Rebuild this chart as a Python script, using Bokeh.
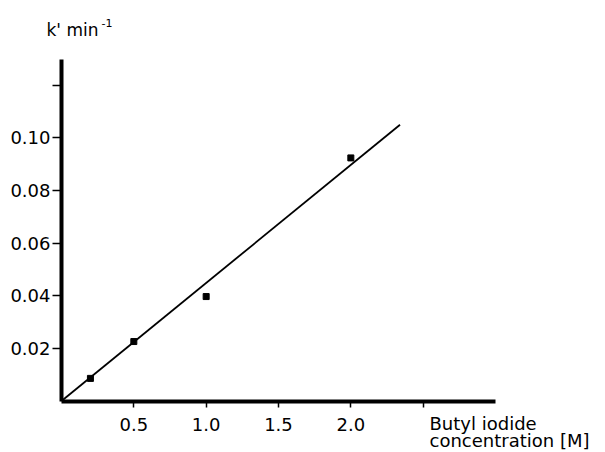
from bokeh.plotting import figure
from bokeh.models import Range1d, FixedTicker, Label
from bokeh.embed import file_html
from bokeh.resources import INLINE

# data
conc = [0.2, 0.5, 1.0, 2.0]
k_obs = [0.0086, 0.0226, 0.0397, 0.0924]
fit_x = [0.0, 2.34]
fit_y = [0.0, 0.105]

x_ticks = [0.5, 1.0, 1.5, 2.0, 2.5]
x_tick_labels = ["0.5", "1.0", "1.5", "2.0", ""]
y_ticks = [0.02, 0.04, 0.06, 0.08, 0.10, 0.12]
y_tick_labels = ["0.02", "0.04", "0.06", "0.08", "0.10", ""]

FONT = "DejaVu Sans"
W, H = 605, 452

# pixel layout of the axes (origin at 61,400.5; x 0..3.0 over 434 px; y 0..0.13 over 342 px)
X0, Y0 = 61.0, 400.5
XS = 434 / 3.0
YS = 342 / 0.13

p = figure(width=W, height=H, output_backend="svg", toolbar_location=None,
           x_range=Range1d(-X0 / XS, (W - X0) / XS),
           y_range=Range1d(-(H - Y0) / YS, Y0 / YS),
           min_border=0, min_border_left=0, min_border_right=0,
           min_border_top=0, min_border_bottom=0)
p.outline_line_color = None
p.xgrid.visible = False
p.ygrid.visible = False
p.background_fill_color = "white"
p.border_fill_color = "white"

for ax, ticks, labels, bounds in ((p.xaxis[0], x_ticks, x_tick_labels, (0, 3.0)),
                                  (p.yaxis[0], y_ticks, y_tick_labels, (0, 0.13))):
    ax.ticker = FixedTicker(ticks=ticks)
    ax.major_label_overrides = {t: l for t, l in zip(ticks, labels)}
    ax.fixed_location = 0
    ax.bounds = bounds
    ax.axis_line_width = 4
    ax.axis_line_color = "black"
    ax.major_tick_line_color = "black"
    ax.major_tick_line_width = 1.5
    ax.major_tick_in = 0
    ax.minor_tick_line_color = None
    ax.major_label_text_font = FONT
    ax.major_label_text_font_size = "18px"
    ax.major_label_text_color = "black"

p.xaxis.major_tick_out = 6
p.xaxis.major_label_standoff = 11
p.yaxis.major_tick_out = 9
p.yaxis.major_label_standoff = 2

p.line(fit_x, fit_y, line_color="black", line_width=1.8)
p.scatter(conc, k_obs, marker="square", size=6, fill_color="black", line_color="black")


def add_text(x, y_top, text, size):
    p.add_layout(Label(x=x, y=H - y_top, x_units="screen", y_units="screen", text=text,
                       text_font=FONT, text_font_size=size, text_baseline="alphabetic",
                       text_color="black"))


# axis titles (screen positions, y measured from the top of the picture)
add_text(46, 29, "k' min", "17px")
add_text(101, 22, "-1", "11px")
add_text(429, 423, "Butyl iodide", "18px")
add_text(429, 440, "concentration [M]", "18px")

open("out.html", "w").write(file_html(p, INLINE))
